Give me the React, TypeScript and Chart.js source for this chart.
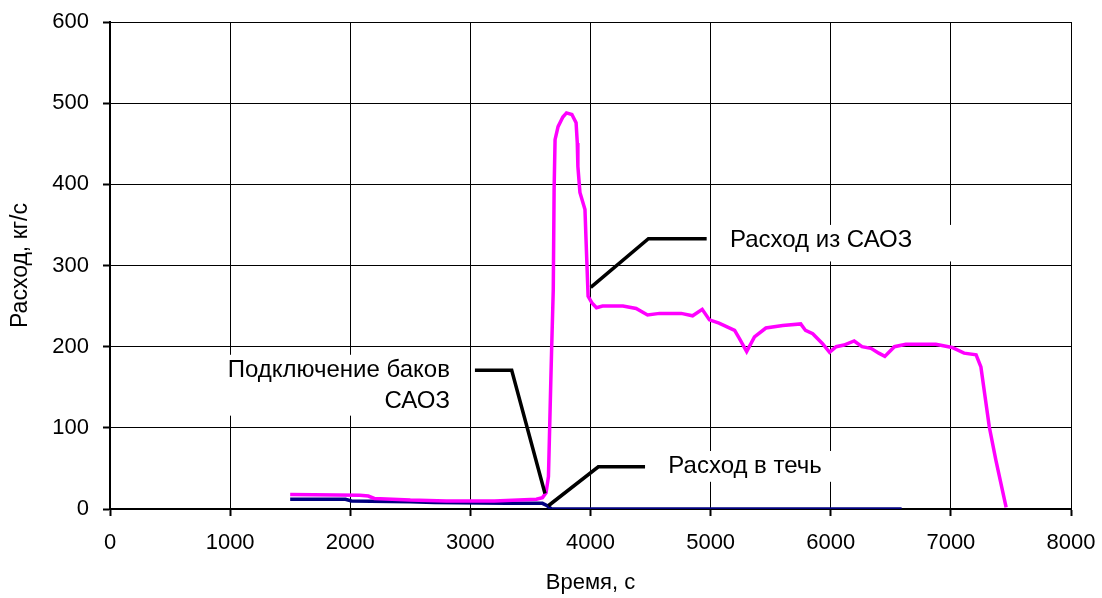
import React, { useEffect, useRef } from 'react';
import { Chart, registerables } from 'chart.js';

Chart.register(...registerables);

// Расход из САОЗ (time, s / flow, kg/s)
const saozTime = [
  1500, 2080, 2150, 2200, 2500, 2800, 3200, 3400, 3550, 3600, 3630, 3650, 3660, 3670, 3677,
  3690, 3697, 3705, 3730, 3770, 3800, 3845, 3880, 3890, 3895, 3912, 3954, 3962, 3970, 3980,
  4012, 4050, 4100, 4270, 4380, 4475, 4575, 4755, 4850, 4930, 4990, 5070, 5200, 5240, 5300,
  5365, 5460, 5600, 5750, 5790, 5850, 5930, 5990, 6045, 6110, 6195, 6260, 6335, 6400, 6450,
  6530, 6625, 6875, 7010, 7110, 7210, 7250, 7320, 7375, 7460,
];
const saozFlow = [
  18, 17, 16, 13, 11, 10, 10, 11, 12, 14, 20, 40, 100, 160, 200,
  270, 393, 455, 471, 483, 488, 486, 476, 451, 422, 390, 369, 335, 303, 262,
  254, 248, 250, 250, 247, 239, 241, 241, 238, 246, 233, 229, 220, 210, 194,
  212, 223, 226, 228, 220, 216, 204, 193, 200, 202, 207, 200, 198, 192, 188,
  200, 203, 203, 199, 192, 190, 175, 101, 60, 2,
];

// Расход в течь
const leakTime = [1500, 1960, 2010, 2500, 2700, 3300, 3600, 3640, 3675, 6590];
const leakFlow = [12, 12, 10, 9, 8, 7, 7, 4, 0, 0];

const xMin = 0;
const xMax = 8000;
const xStep = 1000;
const yMin = 0;
const yMax = 600;
const yStep = 100;

const FONT = 'Arial, "Liberation Sans", sans-serif';

// Callout labels: text anchored in data units, leader polylines in data units,
// white backing boxes [t0, v0, t1, v1].
type Callout = {
  lines: string[];
  align: 'left' | 'right';
  textT: number;
  textV: number[];
  leader: [number, number][];
  box: [number, number, number, number];
};

const callouts: Callout[] = [
  {
    lines: ['Расход из САОЗ'],
    align: 'left',
    textT: 5161,
    textV: [331],
    leader: [[4002, 273], [4482, 333], [4967, 333]],
    box: [5036, 350, 7076, 305],
  },
  {
    lines: ['Подключение баков', 'САОЗ'],
    align: 'right',
    textT: 2830,
    textV: [171, 132],
    leader: [[3038, 171], [3344, 171], [3621, 19]],
    box: [957, 190, 2955, 115],
  },
  {
    lines: ['Расход в течь'],
    align: 'left',
    textT: 4648,
    textV: [52],
    leader: [[3649, 4], [4065, 52], [4454, 52]],
    box: [4495, 71.5, 6044, 33.5],
  },
];

const calloutPlugin = {
  id: 'callouts',
  beforeDatasetsDraw(chart: any) {
    const { ctx, scales } = chart;
    const xs = scales.x;
    const ys = scales.y;
    ctx.save();
    ctx.fillStyle = '#ffffff';
    for (const c of callouts) {
      const [t0, v0, t1, v1] = c.box;
      const x0 = xs.getPixelForValue(t0);
      const x1 = xs.getPixelForValue(t1);
      const y0 = ys.getPixelForValue(v0);
      const y1 = ys.getPixelForValue(v1);
      ctx.fillRect(x0, y0, x1 - x0, y1 - y0);
    }
    ctx.fillStyle = '#000000';
    ctx.font = `24px ${FONT}`;
    ctx.textBaseline = 'middle';
    for (const c of callouts) {
      ctx.textAlign = c.align;
      const x = xs.getPixelForValue(c.textT);
      c.lines.forEach((line, i) => {
        ctx.fillText(line, x, ys.getPixelForValue(c.textV[i]));
      });
    }
    ctx.restore();
  },
  afterDatasetsDraw(chart: any) {
    const { ctx, scales } = chart;
    const xs = scales.x;
    const ys = scales.y;
    ctx.save();
    ctx.strokeStyle = '#000000';
    ctx.lineWidth = 3.5;
    ctx.lineJoin = 'miter';
    for (const c of callouts) {
      ctx.beginPath();
      c.leader.forEach(([t, v], i) => {
        const x = xs.getPixelForValue(t);
        const y = ys.getPixelForValue(v);
        if (i === 0) ctx.moveTo(x, y);
        else ctx.lineTo(x, y);
      });
      ctx.stroke();
    }
    ctx.restore();
  },
};

const zeroPadding = (scale: any) => {
  scale.paddingTop = 0;
  scale.paddingBottom = 0;
  scale.paddingLeft = 0;
  scale.paddingRight = 0;
};

export default function App() {
  const canvasRef = useRef<HTMLCanvasElement | null>(null);

  useEffect(() => {
    const canvas = canvasRef.current;
    if (!canvas) return;

    const chart = new Chart(canvas, {
      type: 'line',
      data: {
        datasets: [
          {
            label: 'Расход из САОЗ',
            data: saozTime.map((t, i) => ({ x: t, y: saozFlow[i] })),
            borderColor: '#ff00ff',
            borderWidth: 3.5,
            pointRadius: 0,
            tension: 0,
            fill: false,
          },
          {
            label: 'Расход в течь',
            data: leakTime.map((t, i) => ({ x: t, y: leakFlow[i] })),
            borderColor: '#000080',
            borderWidth: 3.5,
            pointRadius: 0,
            tension: 0,
            fill: false,
          },
        ],
      },
      options: {
        animation: false,
        responsive: false,
        layout: { padding: { top: 22, right: 31, left: 0, bottom: 0 } },
        plugins: {
          legend: { display: false },
          tooltip: { enabled: false },
        },
        scales: {
          x: {
            type: 'linear',
            min: xMin,
            max: xMax,
            ticks: {
              stepSize: xStep,
              color: '#000',
              padding: 14,
              maxRotation: 0,
              font: { family: FONT, size: 22 },
              callback: (v: any) => String(v),
            },
            grid: {
              color: '#000',
              lineWidth: 1,
              tickLength: 7,
              tickWidth: 2,
              tickColor: '#000',
            },
            border: { color: '#000', width: 2 },
            title: {
              display: true,
              text: 'Время, с',
              color: '#000',
              font: { family: FONT, size: 22 },
              padding: { top: 0, bottom: 2 },
            },
            afterFit: (scale: any) => {
              scale.height = 89;
              zeroPadding(scale);
            },
          },
          y: {
            type: 'linear',
            min: yMin,
            max: yMax,
            ticks: {
              stepSize: yStep,
              color: '#000',
              padding: 14,
              font: { family: FONT, size: 22 },
              callback: (v: any) => String(v),
            },
            grid: {
              color: '#000',
              lineWidth: 1,
              tickLength: 7,
              tickWidth: 2,
              tickColor: '#000',
            },
            border: { color: '#000', width: 2 },
            title: {
              display: true,
              text: 'Расход, кг/с',
              color: '#000',
              font: { family: FONT, size: 23 },
              padding: { top: 7, bottom: 0 },
            },
            afterFit: (scale: any) => {
              scale.width = 110;
              zeroPadding(scale);
            },
          },
        },
      },
      plugins: [calloutPlugin],
    });

    return () => {
      chart.destroy();
    };
  }, []);

  return (
    <div style={{ position: 'absolute', left: 0, top: 0, width: 1102, height: 598, background: '#fff' }}>
      <canvas ref={canvasRef} width={1102} height={598} style={{ display: 'block' }} />
    </div>
  );
}
